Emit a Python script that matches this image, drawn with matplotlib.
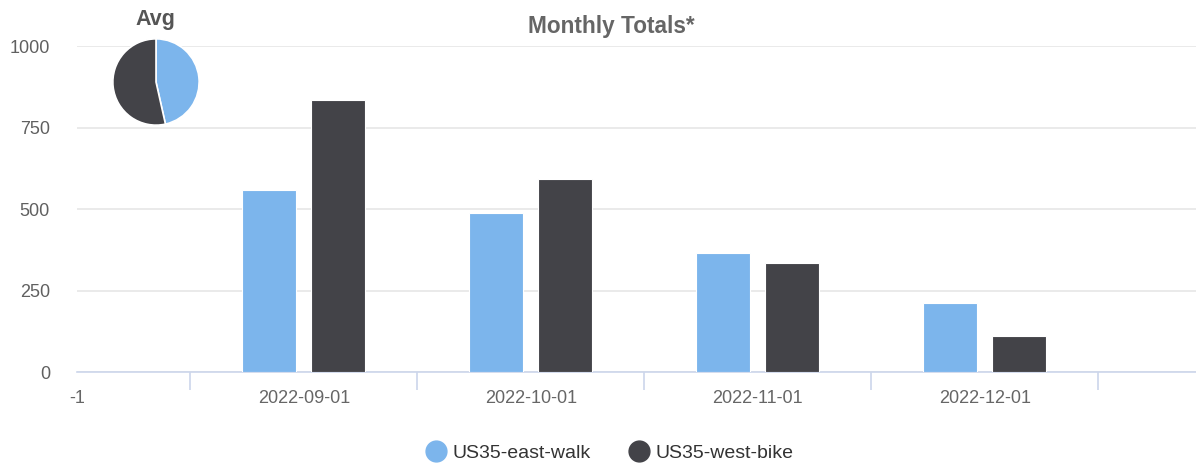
import matplotlib
matplotlib.use('Agg')
import matplotlib.pyplot as plt
from matplotlib.lines import Line2D
import numpy as np

plt.rcParams['font.family'] = ['Liberation Sans', 'DejaVu Sans']

# data
categories = ['2022-09-01', '2022-10-01', '2022-11-01', '2022-12-01']
east_walk = [558, 487, 365, 213]
west_bike = [834, 591, 333, 110]
series_names = ['US35-east-walk', 'US35-west-bike']
avg_values = [np.mean(east_walk), np.mean(west_bike)]
yticks = [0, 250, 500, 750, 1000]

blue = '#7cb5ec'
dark = '#434348'
txt = '#666666'

fig = plt.figure(figsize=(11.96, 4.65), dpi=100)
ax = fig.add_axes([77 / 1196, 1 - 372 / 465, 1 - 77 / 1196, (372 - 46) / 465])

x = np.arange(len(categories))
w = 0.238
off = 0.152
ax.bar(x - off, east_walk, w, color=blue, edgecolor='white', linewidth=0.8, zorder=3)
ax.bar(x + off, west_bike, w, color=dark, edgecolor='white', linewidth=0.8, zorder=3)

ax.set_xlim(-1, 3.93)
ax.set_ylim(0, 1000)
ax.set_yticks(yticks)
ax.set_yticklabels([str(v) for v in yticks], color='#606060', fontsize=13)
ax.tick_params(axis='y', length=0, pad=19.5)
ax.grid(axis='y', color='#e6e6e6', linewidth=1.2, zorder=0)

ax.set_xticks([-1] + list(x))
ax.set_xticklabels(['-1'] + categories, color=txt, fontsize=13)
ax.tick_params(axis='x', length=0, pad=13)
ax.set_xticks(np.arange(-0.5, 4, 1), minor=True)
ax.tick_params(axis='x', which='minor', length=13, color='#ccd6eb', width=1.2)

for s in ['top', 'right', 'left']:
    ax.spines[s].set_visible(False)
ax.spines['bottom'].set_color('#ccd6eb')
ax.spines['bottom'].set_linewidth(1.2)

fig.text(611 / 1196, 1 - 27 / 465, 'Monthly Totals*', ha='center', va='center',
         fontsize=16.3, fontweight='bold', color=txt)

# average pie
pax = fig.add_axes([112 / 1196, 1 - 126 / 465, 88 / 1196, 88 / 465])
pax.pie(avg_values, colors=[blue, dark], startangle=90, counterclock=False,
        wedgeprops=dict(edgecolor='white', linewidth=1.2))
pax.set_xlim(-1.02, 1.02)
pax.set_ylim(-1.02, 1.02)
pax.set_aspect('equal')
fig.text(155 / 1196, 1 - 20 / 465, 'Avg', ha='center', va='center',
         fontsize=15.5, fontweight='bold', color='#555555')

handles = [Line2D([], [], marker='o', linestyle='none', markersize=15, color=c)
           for c in [blue, dark]]
fig.legend(handles, series_names, loc='center', bbox_to_anchor=(609 / 1196, 1 - 453 / 465),
           ncol=2, frameon=False, fontsize=14, labelcolor='#333333',
           handletextpad=0.25, columnspacing=1.9, handlelength=1.2)

fig.savefig('out.png', dpi=100)
